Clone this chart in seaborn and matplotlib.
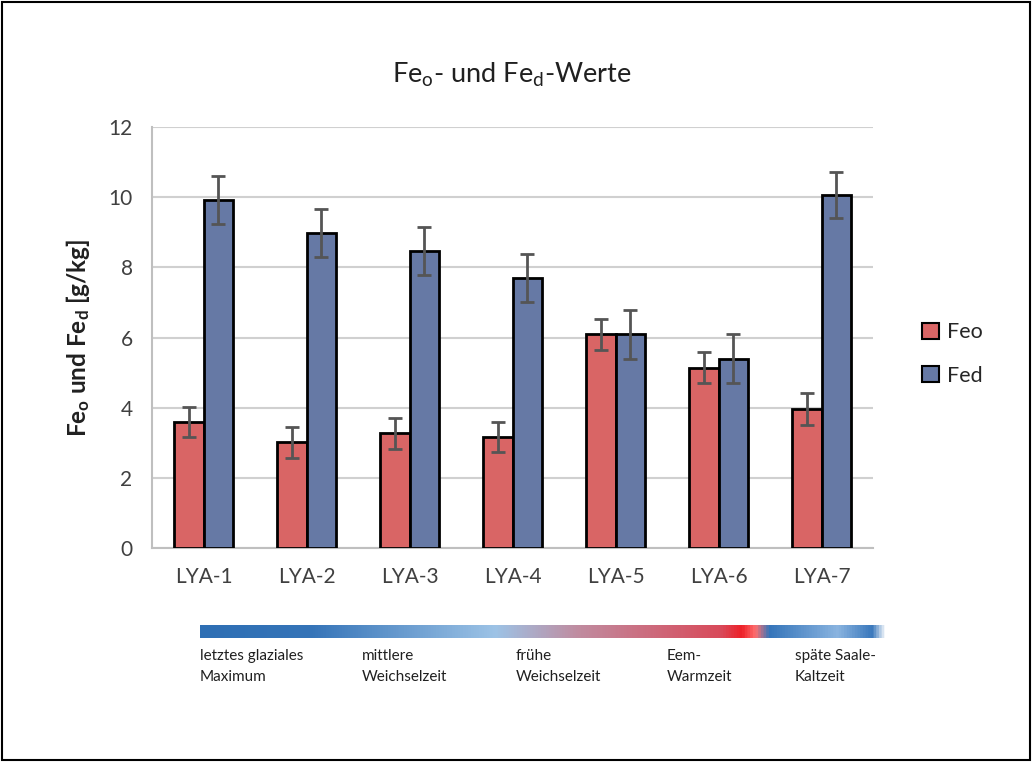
import numpy as np
import pandas as pd
import matplotlib.pyplot as plt
import seaborn as sns
from matplotlib.colors import LinearSegmentedColormap
from matplotlib.patches import Rectangle, Patch

# data
samples = ['LYA-1', 'LYA-2', 'LYA-3', 'LYA-4', 'LYA-5', 'LYA-6', 'LYA-7']
feo = [3.60, 3.01, 3.27, 3.17, 6.09, 5.14, 3.96]
fed = [9.92, 8.98, 8.47, 7.70, 6.09, 5.39, 10.07]
feo_err = [0.43, 0.44, 0.44, 0.43, 0.44, 0.44, 0.45]
fed_err = [0.69, 0.69, 0.69, 0.69, 0.69, 0.70, 0.66]
periods = ['letztes glaziales\nMaximum', 'mittlere\nWeichselzeit', 'frühe\nWeichselzeit',
           'Eem-\nWarmzeit', 'späte Saale-\nKaltzeit']
period_x = [200, 362, 516, 667, 795]

df = pd.DataFrame({
    'sample': samples * 2,
    'value': feo + fed,
    'err': feo_err + fed_err,
    'series': ['Feo'] * 7 + ['Fed'] * 7,
})

sns.set_theme(style="white")
plt.rcParams['font.family'] = ['Lato', 'DejaVu Sans']
plt.rcParams['mathtext.fontset'] = 'custom'
plt.rcParams['mathtext.rm'] = 'Lato'
plt.rcParams['mathtext.it'] = 'Lato'
plt.rcParams['mathtext.bf'] = 'Lato:bold'

colors = {'Feo': '#D96565', 'Fed': '#6679A5'}

fig = plt.figure(figsize=(10.32, 7.62), dpi=100)
ax = fig.add_axes([152 / 1032, 1 - 548 / 762, 721 / 1032, 421 / 762])

sns.barplot(data=df, x='sample', y='value', hue='series', palette=colors,
            errorbar=None, width=0.58, edgecolor='black', linewidth=2,
            saturation=1, ax=ax, legend=False, zorder=3)

# error bars on top of each bar
for cont, errs in zip(ax.containers, [feo_err, fed_err]):
    for bar, e in zip(cont, errs):
        ax.errorbar(bar.get_x() + bar.get_width() / 2, bar.get_height(), yerr=e,
                    color='#555555', capsize=5, elinewidth=2, capthick=2, zorder=4)

ax.set_ylim(0, 12)
ax.set_yticks(range(0, 13, 2))
ax.set_xlim(-0.5, 6.5)
ax.yaxis.grid(True, color='#D0D0D0', linewidth=1.5, zorder=0)
ax.set_axisbelow(True)
for s in ['top', 'right']:
    ax.spines[s].set_visible(False)
for s in ['left', 'bottom']:
    ax.spines[s].set_color('#BFBFBF')
    ax.spines[s].set_linewidth(1.5)
ax.tick_params(axis='both', length=0, labelsize=15, colors='#404040', pad=14)
ax.tick_params(axis='x', pad=14)
ax.set_xlabel('')
ax.set_ylabel(r'Fe$_\mathbf{o}$ und Fe$_\mathbf{d}$ [g/kg]', fontsize=17.5,
              fontweight='bold', labelpad=12, color='#202020')

fig.text(512 / 1032, 1 - 75 / 762, r'Fe$_\mathrm{o}$- und Fe$_\mathrm{d}$-Werte',
         ha='center', va='center', fontsize=19.5, color='#202020')

handles = [Patch(facecolor=colors[k], edgecolor='black', linewidth=1.5, label=k)
           for k in ['Feo', 'Fed']]
fig.legend(handles=handles, loc='center left', bbox_to_anchor=(903 / 1032, 1 - 354 / 762),
           frameon=False, fontsize=15.5, handlelength=0.75, handleheight=0.75,
           handletextpad=0.4, labelspacing=1.1)

# climate period gradient bar
cmap = LinearSegmentedColormap.from_list('periods', [
    (0.00, '#2E6FB4'), (0.16, '#3574B8'), (0.43, '#9DC3E6'), (0.55, '#C08CA0'),
    (0.76, '#D94A5A'), (0.79, '#EE2028'), (0.81, '#FF7070'), (0.83, '#3575BA'),
    (0.93, '#8AB4E0'), (0.98, '#3A78BC'), (1.00, '#FFFFFF')])
gax = fig.add_axes([200 / 1032, 1 - 638 / 762, 687 / 1032, 13 / 762])
gax.imshow(np.linspace(0, 1, 512)[None, :], aspect='auto', cmap=cmap)
gax.set_axis_off()

for x, lab in zip(period_x, periods):
    fig.text(x / 1032, 1 - 649 / 762, lab, ha='left', va='top', fontsize=11,
             color='#202020', linespacing=1.65)

fig.patches.append(Rectangle((0.002, 0.002), 0.996, 0.996, transform=fig.transFigure,
                             fill=False, edgecolor='black', linewidth=1.5))

fig.savefig('out.png', dpi=100)
